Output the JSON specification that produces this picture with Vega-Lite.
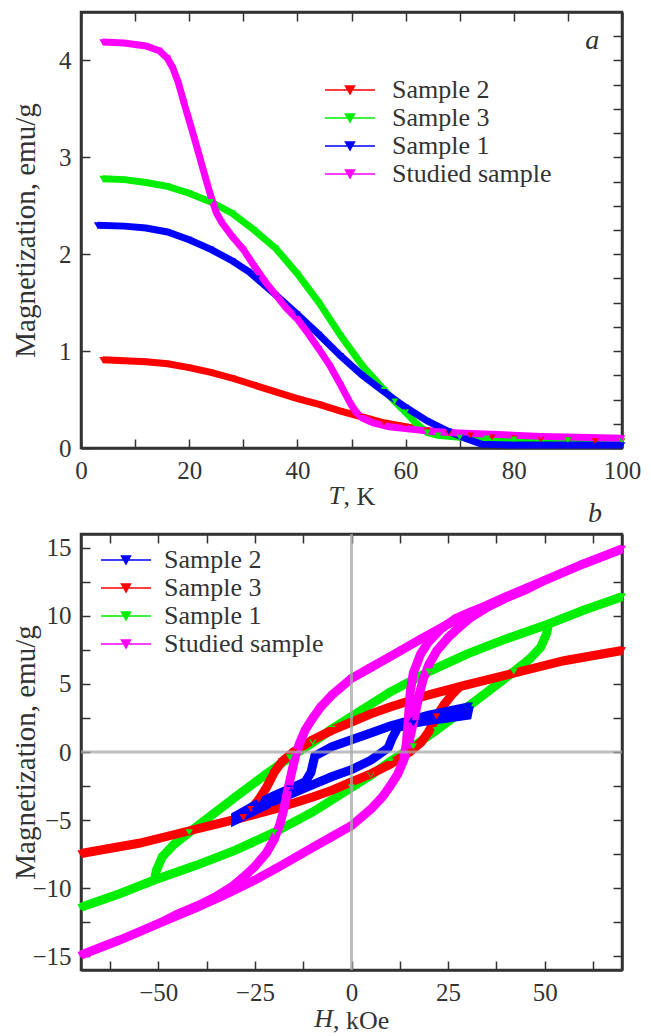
{
"$schema": "https://vega.github.io/schema/vega-lite/v6.json",
"background": "white",
"padding": {"left": 9, "top": 10, "right": 25, "bottom": 0},
"spacing": 86,
"bounds": "flush",
"config": {
  "font": "Liberation Serif",
  "view": {"stroke": "#333", "strokeWidth": 2.5},
  "axis": {"labelFont": "Liberation Serif", "labelFontSize": 25, "labelColor": "#333", "labelFlush": false, "titleFont": "Liberation Serif", "titleFontSize": 26, "titleFontWeight": "normal", "titleColor": "#333", "domainColor": "#333", "domainWidth": 2.5, "tickColor": "#333", "tickWidth": 1.5, "tickSize": -9, "labelPadding": 19, "grid": false}
},
"resolve": {"scale": {"color": "independent"}, "legend": {"color": "independent"}},
"datasets": {
"a": [
{"s":"Sample 2","T":4,"M":0.91},{"s":"Sample 2","T":8,"M":0.90},{"s":"Sample 2","T":12,"M":0.89},{"s":"Sample 2","T":16,"M":0.87},{"s":"Sample 2","T":20,"M":0.83},{"s":"Sample 2","T":24,"M":0.78},{"s":"Sample 2","T":28,"M":0.72},{"s":"Sample 2","T":32,"M":0.65},{"s":"Sample 2","T":36,"M":0.58},{"s":"Sample 2","T":40,"M":0.51},{"s":"Sample 2","T":44,"M":0.45},{"s":"Sample 2","T":48,"M":0.38},{"s":"Sample 2","T":52,"M":0.32},{"s":"Sample 2","T":56,"M":0.26},{"s":"Sample 2","T":60,"M":0.22},{"s":"Sample 2","T":64,"M":0.18},{"s":"Sample 2","T":68,"M":0.15},{"s":"Sample 2","T":72,"M":0.13},{"s":"Sample 2","T":76,"M":0.11},{"s":"Sample 2","T":80,"M":0.10},{"s":"Sample 2","T":85,"M":0.09},{"s":"Sample 2","T":90,"M":0.08},{"s":"Sample 2","T":95,"M":0.07},{"s":"Sample 2","T":100,"M":0.07},
{"s":"Sample 3","T":4,"M":2.78},{"s":"Sample 3","T":8,"M":2.77},{"s":"Sample 3","T":12,"M":2.74},{"s":"Sample 3","T":16,"M":2.70},{"s":"Sample 3","T":20,"M":2.63},{"s":"Sample 3","T":24,"M":2.54},{"s":"Sample 3","T":28,"M":2.42},{"s":"Sample 3","T":32,"M":2.25},{"s":"Sample 3","T":36,"M":2.06},{"s":"Sample 3","T":40,"M":1.80},{"s":"Sample 3","T":44,"M":1.50},{"s":"Sample 3","T":48,"M":1.16},{"s":"Sample 3","T":52,"M":0.85},{"s":"Sample 3","T":56,"M":0.60},{"s":"Sample 3","T":58,"M":0.48},{"s":"Sample 3","T":60,"M":0.37},{"s":"Sample 3","T":62,"M":0.25},{"s":"Sample 3","T":64,"M":0.16},{"s":"Sample 3","T":66,"M":0.13},{"s":"Sample 3","T":70,"M":0.11},{"s":"Sample 3","T":75,"M":0.10},{"s":"Sample 3","T":80,"M":0.09},{"s":"Sample 3","T":90,"M":0.08},{"s":"Sample 3","T":100,"M":0.07},
{"s":"Sample 1","T":3,"M":2.30},{"s":"Sample 1","T":8,"M":2.29},{"s":"Sample 1","T":12,"M":2.27},{"s":"Sample 1","T":16,"M":2.23},{"s":"Sample 1","T":20,"M":2.15},{"s":"Sample 1","T":24,"M":2.05},{"s":"Sample 1","T":28,"M":1.93},{"s":"Sample 1","T":31,"M":1.82},{"s":"Sample 1","T":32.5,"M":1.75},{"s":"Sample 1","T":36,"M":1.58},{"s":"Sample 1","T":40,"M":1.38},{"s":"Sample 1","T":44,"M":1.17},{"s":"Sample 1","T":48,"M":0.95},{"s":"Sample 1","T":52,"M":0.75},{"s":"Sample 1","T":56,"M":0.58},{"s":"Sample 1","T":60,"M":0.42},{"s":"Sample 1","T":64,"M":0.28},{"s":"Sample 1","T":68,"M":0.17},{"s":"Sample 1","T":71,"M":0.10},{"s":"Sample 1","T":74,"M":0.04},{"s":"Sample 1","T":80,"M":0.03},{"s":"Sample 1","T":90,"M":0.03},{"s":"Sample 1","T":100,"M":0.03},
{"s":"Studied sample","T":4,"M":4.19},{"s":"Studied sample","T":8,"M":4.18},{"s":"Studied sample","T":12,"M":4.15},{"s":"Studied sample","T":14.5,"M":4.10},{"s":"Studied sample","T":16,"M":4.02},{"s":"Studied sample","T":17,"M":3.92},{"s":"Studied sample","T":18,"M":3.77},{"s":"Studied sample","T":19,"M":3.57},{"s":"Studied sample","T":20,"M":3.38},{"s":"Studied sample","T":21,"M":3.19},{"s":"Studied sample","T":22,"M":2.99},{"s":"Studied sample","T":23,"M":2.79},{"s":"Studied sample","T":24,"M":2.60},{"s":"Studied sample","T":25,"M":2.43},{"s":"Studied sample","T":26,"M":2.33},{"s":"Studied sample","T":28,"M":2.18},{"s":"Studied sample","T":30,"M":2.05},{"s":"Studied sample","T":32,"M":1.88},{"s":"Studied sample","T":34,"M":1.72},{"s":"Studied sample","T":36,"M":1.58},{"s":"Studied sample","T":38,"M":1.44},{"s":"Studied sample","T":40,"M":1.33},{"s":"Studied sample","T":42,"M":1.18},{"s":"Studied sample","T":44,"M":1.02},{"s":"Studied sample","T":46,"M":0.85},{"s":"Studied sample","T":48,"M":0.65},{"s":"Studied sample","T":50,"M":0.44},{"s":"Studied sample","T":51,"M":0.36},{"s":"Studied sample","T":52,"M":0.31},{"s":"Studied sample","T":54,"M":0.26},{"s":"Studied sample","T":57,"M":0.22},{"s":"Studied sample","T":60,"M":0.20},{"s":"Studied sample","T":65,"M":0.17},{"s":"Studied sample","T":70,"M":0.155},{"s":"Studied sample","T":77,"M":0.14},{"s":"Studied sample","T":85,"M":0.12},{"s":"Studied sample","T":92,"M":0.11},{"s":"Studied sample","T":100,"M":0.10}
],
"b": [
{"s":"Sample 1","g":"m","i":0,"H":70,"M":11.4},{"s":"Sample 1","g":"m","i":1,"H":60,"M":10.4},{"s":"Sample 1","g":"m","i":2,"H":51,"M":9.4},{"s":"Sample 1","g":"m","i":3,"H":40,"M":8.3},{"s":"Sample 1","g":"m","i":4,"H":30,"M":7.2},{"s":"Sample 1","g":"m","i":5,"H":20,"M":5.9},{"s":"Sample 1","g":"m","i":6,"H":10,"M":4.4},{"s":"Sample 1","g":"m","i":7,"H":0,"M":2.6},{"s":"Sample 1","g":"m","i":8,"H":-5,"M":1.7},{"s":"Sample 1","g":"m","i":9,"H":-10,"M":0.7},{"s":"Sample 1","g":"m","i":10,"H":-16,"M":-0.4},{"s":"Sample 1","g":"m","i":11,"H":-22,"M":-1.6},{"s":"Sample 1","g":"m","i":12,"H":-30,"M":-3.3},{"s":"Sample 1","g":"m","i":13,"H":-36,"M":-4.6},{"s":"Sample 1","g":"m","i":14,"H":-42,"M":-5.9},{"s":"Sample 1","g":"m","i":15,"H":-46,"M":-6.8},{"s":"Sample 1","g":"m","i":16,"H":-49,"M":-7.7},{"s":"Sample 1","g":"m","i":17,"H":-50.5,"M":-8.7},{"s":"Sample 1","g":"m","i":18,"H":-51,"M":-9.4},{"s":"Sample 1","g":"m","i":19,"H":-60,"M":-10.4},{"s":"Sample 1","g":"m","i":20,"H":-70,"M":-11.4},
{"s":"Sample 1","g":"m","i":21,"H":-60,"M":-10.4},{"s":"Sample 1","g":"m","i":22,"H":-51,"M":-9.4},{"s":"Sample 1","g":"m","i":23,"H":-40,"M":-8.3},{"s":"Sample 1","g":"m","i":24,"H":-30,"M":-7.2},{"s":"Sample 1","g":"m","i":25,"H":-20,"M":-5.9},{"s":"Sample 1","g":"m","i":26,"H":-10,"M":-4.4},{"s":"Sample 1","g":"m","i":27,"H":0,"M":-2.6},{"s":"Sample 1","g":"m","i":28,"H":5,"M":-1.7},{"s":"Sample 1","g":"m","i":29,"H":10,"M":-0.7},{"s":"Sample 1","g":"m","i":30,"H":16,"M":0.4},{"s":"Sample 1","g":"m","i":31,"H":22,"M":1.6},{"s":"Sample 1","g":"m","i":32,"H":30,"M":3.3},{"s":"Sample 1","g":"m","i":33,"H":36,"M":4.6},{"s":"Sample 1","g":"m","i":34,"H":42,"M":5.9},{"s":"Sample 1","g":"m","i":35,"H":46,"M":6.8},{"s":"Sample 1","g":"m","i":36,"H":49,"M":7.7},{"s":"Sample 1","g":"m","i":37,"H":50.5,"M":8.7},{"s":"Sample 1","g":"m","i":38,"H":51,"M":9.4},{"s":"Sample 1","g":"m","i":39,"H":60,"M":10.4},{"s":"Sample 1","g":"m","i":40,"H":70,"M":11.4},
{"s":"Sample 3","g":"m","i":0,"H":70,"M":7.45},{"s":"Sample 3","g":"m","i":1,"H":55,"M":6.7},{"s":"Sample 3","g":"m","i":2,"H":45,"M":6.0},{"s":"Sample 3","g":"m","i":3,"H":35,"M":5.3},{"s":"Sample 3","g":"m","i":4,"H":28,"M":4.8},{"s":"Sample 3","g":"m","i":5,"H":20,"M":4.2},{"s":"Sample 3","g":"m","i":6,"H":10,"M":3.3},{"s":"Sample 3","g":"m","i":7,"H":5,"M":2.8},{"s":"Sample 3","g":"m","i":8,"H":0,"M":2.2},{"s":"Sample 3","g":"m","i":9,"H":-5,"M":1.6},{"s":"Sample 3","g":"m","i":10,"H":-10,"M":0.9},{"s":"Sample 3","g":"m","i":11,"H":-15,"M":0.0},{"s":"Sample 3","g":"m","i":12,"H":-18,"M":-0.7},{"s":"Sample 3","g":"m","i":13,"H":-20,"M":-1.5},{"s":"Sample 3","g":"m","i":14,"H":-22,"M":-2.6},{"s":"Sample 3","g":"m","i":15,"H":-24,"M":-3.5},{"s":"Sample 3","g":"m","i":16,"H":-26,"M":-4.2},{"s":"Sample 3","g":"m","i":17,"H":-28,"M":-4.8},{"s":"Sample 3","g":"m","i":18,"H":-35,"M":-5.3},{"s":"Sample 3","g":"m","i":19,"H":-45,"M":-6.0},{"s":"Sample 3","g":"m","i":20,"H":-55,"M":-6.7},{"s":"Sample 3","g":"m","i":21,"H":-70,"M":-7.45},
{"s":"Sample 3","g":"m","i":22,"H":-55,"M":-6.7},{"s":"Sample 3","g":"m","i":23,"H":-45,"M":-6.0},{"s":"Sample 3","g":"m","i":24,"H":-35,"M":-5.3},{"s":"Sample 3","g":"m","i":25,"H":-28,"M":-4.8},{"s":"Sample 3","g":"m","i":26,"H":-20,"M":-4.2},{"s":"Sample 3","g":"m","i":27,"H":-10,"M":-3.3},{"s":"Sample 3","g":"m","i":28,"H":-5,"M":-2.8},{"s":"Sample 3","g":"m","i":29,"H":0,"M":-2.2},{"s":"Sample 3","g":"m","i":30,"H":5,"M":-1.6},{"s":"Sample 3","g":"m","i":31,"H":10,"M":-0.9},{"s":"Sample 3","g":"m","i":32,"H":15,"M":0.0},{"s":"Sample 3","g":"m","i":33,"H":18,"M":0.7},{"s":"Sample 3","g":"m","i":34,"H":20,"M":1.5},{"s":"Sample 3","g":"m","i":35,"H":22,"M":2.6},{"s":"Sample 3","g":"m","i":36,"H":24,"M":3.5},{"s":"Sample 3","g":"m","i":37,"H":26,"M":4.2},{"s":"Sample 3","g":"m","i":38,"H":28,"M":4.8},{"s":"Sample 3","g":"m","i":39,"H":35,"M":5.3},{"s":"Sample 3","g":"m","i":40,"H":45,"M":6.0},{"s":"Sample 3","g":"m","i":41,"H":55,"M":6.7},{"s":"Sample 3","g":"m","i":42,"H":70,"M":7.45},
{"s":"Sample 2","g":"m","i":0,"H":30,"M":3.3},{"s":"Sample 2","g":"m","i":1,"H":25,"M":3.0},{"s":"Sample 2","g":"m","i":2,"H":20,"M":2.7},{"s":"Sample 2","g":"m","i":3,"H":15,"M":2.3},{"s":"Sample 2","g":"m","i":4,"H":10,"M":1.9},{"s":"Sample 2","g":"m","i":5,"H":5,"M":1.4},{"s":"Sample 2","g":"m","i":6,"H":0,"M":0.9},{"s":"Sample 2","g":"m","i":7,"H":-5,"M":0.4},{"s":"Sample 2","g":"m","i":8,"H":-9.5,"M":-0.3},{"s":"Sample 2","g":"m","i":9,"H":-10.5,"M":-1.5},{"s":"Sample 2","g":"m","i":10,"H":-12,"M":-2.2},{"s":"Sample 2","g":"m","i":11,"H":-16,"M":-2.7},{"s":"Sample 2","g":"m","i":12,"H":-20,"M":-3.2},{"s":"Sample 2","g":"m","i":13,"H":-25,"M":-3.9},{"s":"Sample 2","g":"m","i":14,"H":-30,"M":-4.7},
{"s":"Sample 2","g":"m","i":15,"H":-30,"M":-5.0},{"s":"Sample 2","g":"m","i":16,"H":-25,"M":-4.3},{"s":"Sample 2","g":"m","i":17,"H":-20,"M":-3.6},{"s":"Sample 2","g":"m","i":18,"H":-15,"M":-3.0},{"s":"Sample 2","g":"m","i":19,"H":-10,"M":-2.4},{"s":"Sample 2","g":"m","i":20,"H":-5,"M":-1.8},{"s":"Sample 2","g":"m","i":21,"H":0,"M":-1.3},{"s":"Sample 2","g":"m","i":22,"H":5,"M":-0.6},{"s":"Sample 2","g":"m","i":23,"H":9.5,"M":0.3},{"s":"Sample 2","g":"m","i":24,"H":10.5,"M":1.0},{"s":"Sample 2","g":"m","i":25,"H":12,"M":1.8},{"s":"Sample 2","g":"m","i":26,"H":16,"M":2.1},{"s":"Sample 2","g":"m","i":27,"H":20,"M":2.3},{"s":"Sample 2","g":"m","i":28,"H":25,"M":2.5},{"s":"Sample 2","g":"m","i":29,"H":30,"M":2.7},{"s":"Sample 2","g":"m","i":30,"H":30.5,"M":3.4},
{"s":"Studied sample","g":"m","i":0,"H":70,"M":14.9},{"s":"Studied sample","g":"m","i":1,"H":60,"M":13.8},{"s":"Studied sample","g":"m","i":2,"H":50,"M":12.6},{"s":"Studied sample","g":"m","i":3,"H":40,"M":11.4},{"s":"Studied sample","g":"m","i":4,"H":33,"M":10.5},{"s":"Studied sample","g":"m","i":5,"H":25,"M":9.4},{"s":"Studied sample","g":"m","i":6,"H":18,"M":8.3},{"s":"Studied sample","g":"m","i":7,"H":10,"M":7.0},{"s":"Studied sample","g":"m","i":8,"H":5,"M":6.2},{"s":"Studied sample","g":"m","i":9,"H":0,"M":5.4},{"s":"Studied sample","g":"m","i":10,"H":-5,"M":4.2},{"s":"Studied sample","g":"m","i":11,"H":-8,"M":3.3},{"s":"Studied sample","g":"m","i":12,"H":-10,"M":2.5},{"s":"Studied sample","g":"m","i":13,"H":-12,"M":1.6},{"s":"Studied sample","g":"m","i":14,"H":-13.5,"M":0.6},{"s":"Studied sample","g":"m","i":15,"H":-14.5,"M":-0.3},{"s":"Studied sample","g":"m","i":16,"H":-15.5,"M":-1.5},{"s":"Studied sample","g":"m","i":17,"H":-16.5,"M":-2.8},{"s":"Studied sample","g":"m","i":18,"H":-17.5,"M":-4.2},{"s":"Studied sample","g":"m","i":19,"H":-18.5,"M":-5.3},{"s":"Studied sample","g":"m","i":20,"H":-20,"M":-6.4},{"s":"Studied sample","g":"m","i":21,"H":-22,"M":-7.4},{"s":"Studied sample","g":"m","i":22,"H":-25,"M":-8.4},{"s":"Studied sample","g":"m","i":23,"H":-28,"M":-9.2},{"s":"Studied sample","g":"m","i":24,"H":-31,"M":-9.9},{"s":"Studied sample","g":"m","i":25,"H":-35,"M":-10.6},{"s":"Studied sample","g":"m","i":26,"H":-40,"M":-11.3},{"s":"Studied sample","g":"m","i":27,"H":-45,"M":-11.9},{"s":"Studied sample","g":"m","i":28,"H":-50,"M":-12.6},{"s":"Studied sample","g":"m","i":29,"H":-60,"M":-13.8},{"s":"Studied sample","g":"m","i":30,"H":-70,"M":-14.9},
{"s":"Studied sample","g":"m","i":31,"H":-60,"M":-13.8},{"s":"Studied sample","g":"m","i":32,"H":-50,"M":-12.6},{"s":"Studied sample","g":"m","i":33,"H":-40,"M":-11.4},{"s":"Studied sample","g":"m","i":34,"H":-33,"M":-10.5},{"s":"Studied sample","g":"m","i":35,"H":-25,"M":-9.4},{"s":"Studied sample","g":"m","i":36,"H":-18,"M":-8.3},{"s":"Studied sample","g":"m","i":37,"H":-10,"M":-7.0},{"s":"Studied sample","g":"m","i":38,"H":-5,"M":-6.2},{"s":"Studied sample","g":"m","i":39,"H":0,"M":-5.4},{"s":"Studied sample","g":"m","i":40,"H":5,"M":-4.2},{"s":"Studied sample","g":"m","i":41,"H":8,"M":-3.3},{"s":"Studied sample","g":"m","i":42,"H":10,"M":-2.5},{"s":"Studied sample","g":"m","i":43,"H":12,"M":-1.6},{"s":"Studied sample","g":"m","i":44,"H":13.5,"M":-0.6},{"s":"Studied sample","g":"m","i":45,"H":14.5,"M":0.3},{"s":"Studied sample","g":"m","i":46,"H":15.5,"M":1.5},{"s":"Studied sample","g":"m","i":47,"H":16.5,"M":2.8},{"s":"Studied sample","g":"m","i":48,"H":17.5,"M":4.2},{"s":"Studied sample","g":"m","i":49,"H":18.5,"M":5.3},{"s":"Studied sample","g":"m","i":50,"H":20,"M":6.4},{"s":"Studied sample","g":"m","i":51,"H":22,"M":7.4},{"s":"Studied sample","g":"m","i":52,"H":25,"M":8.4},{"s":"Studied sample","g":"m","i":53,"H":28,"M":9.2},{"s":"Studied sample","g":"m","i":54,"H":31,"M":9.9},{"s":"Studied sample","g":"m","i":55,"H":35,"M":10.6},{"s":"Studied sample","g":"m","i":56,"H":40,"M":11.3},{"s":"Studied sample","g":"m","i":57,"H":45,"M":11.9},{"s":"Studied sample","g":"m","i":58,"H":50,"M":12.6},{"s":"Studied sample","g":"m","i":59,"H":60,"M":13.8},{"s":"Studied sample","g":"m","i":60,"H":70,"M":14.9},
{"s":"Studied sample","g":"x","i":0,"H":13.5,"M":-0.6},{"s":"Studied sample","g":"x","i":1,"H":14.2,"M":0.6},{"s":"Studied sample","g":"x","i":2,"H":14.7,"M":2.4},{"s":"Studied sample","g":"x","i":3,"H":15.2,"M":4.4},{"s":"Studied sample","g":"x","i":4,"H":16,"M":5.8},{"s":"Studied sample","g":"x","i":5,"H":17.9,"M":7.2},{"s":"Studied sample","g":"x","i":6,"H":20,"M":8.1},{"s":"Studied sample","g":"x","i":7,"H":23,"M":9.0},{"s":"Studied sample","g":"x","i":8,"H":27,"M":9.8},{"s":"Studied sample","g":"x","i":9,"H":31,"M":10.3},{"s":"Studied sample","g":"x","i":10,"H":34,"M":10.6}
]
},
"vconcat": [
{
  "width": 541, "height": 436,
  "layer": [
    {
      "data": {"name": "a"},
      "mark": {"type": "line", "strokeWidth": 7},
      "encoding": {
        "x": {"field": "T", "type": "quantitative", "scale": {"domain": [0, 100], "nice": false, "zero": false},
              "axis": {"orient": "bottom", "title": ", K", "values": [0,10,20,30,40,50,60,70,80,90,100], "format": "d", "labelExpr": "datum.value % 20 === 0 ? datum.label : ''", "titleY": 56, "titleX": 262, "titleAlign": "left", "titleAnchor": null, "titleBaseline": "alphabetic"}},
        "y": {"field": "M", "type": "quantitative", "scale": {"domain": [0, 4.5], "nice": false},
              "axis": {"orient": "left", "title": "Magnetization, emu/g", "titleFontSize": 29, "values": [0,0.25,0.5,0.75,1,1.25,1.5,1.75,2,2.25,2.5,2.75,3,3.25,3.5,3.75,4,4.25], "format": "d", "labelExpr": "datum.value % 1 === 0 ? datum.label : ''", "titleX": -47, "titleBaseline": "alphabetic"}},
        "color": {"field": "s", "type": "nominal",
                  "scale": {"domain": ["Sample 2", "Sample 3", "Sample 1", "Studied sample"], "range": ["#ff0000", "#00ee00", "#0000ff", "#ff00ff"]},
                  "legend": {"orient": "none", "legendX": 256, "legendY": 65, "title": null, "padding": 0,
                             "symbolType": "M-2.5,0H2.5M-0.45,-0.4L0.45,-0.4L0,0.4Z", "symbolSize": 400, "symbolStrokeWidth": 1.5,
                             "labelFont": "Liberation Serif", "labelFontSize": 26, "labelColor": "#333", "labelOffset": 29, "rowPadding": 2,
                             "encode": {"symbols": {"update": {
                               "fill": {"signal": "datum.value === 'Sample 2' ? '#ff0000' : datum.value === 'Sample 3' ? '#00ee00' : datum.value === 'Sample 1' ? '#0000ff' : '#ff00ff'"},
                               "stroke": {"signal": "datum.value === 'Sample 2' ? '#ff7777' : datum.value === 'Sample 3' ? '#66ee66' : datum.value === 'Sample 1' ? '#6666ff' : '#66ee66'"},
                               "opacity": {"value": 1}}}}}}
      }
    },
    {
      "data": {"name": "a"},
      "mark": {"type": "point", "shape": "triangle-down", "filled": true, "size": 45, "opacity": 1},
      "encoding": {
        "x": {"field": "T", "type": "quantitative", "axis": {"orient": "top", "labels": false, "title": null, "values": [0,10,20,30,40,50,60,70,80,90,100]}},
        "y": {"field": "M", "type": "quantitative", "axis": {"orient": "right", "labels": false, "title": null, "values": [0,0.25,0.5,0.75,1,1.25,1.5,1.75,2,2.25,2.5,2.75,3,3.25,3.5,3.75,4,4.25]}},
        "color": {"field": "s", "type": "nominal"}
      }
    },
    {
      "data": {"values": [{"label": "a"}]},
      "mark": {"type": "text", "font": "Liberation Serif", "fontStyle": "italic", "fontWeight": "normal", "fontSize": 28, "align": "center", "baseline": "alphabetic", "color": "#333"},
      "encoding": {"text": {"field": "label"}, "x": {"datum": 94.5, "type": "quantitative", "axis": null}, "y": {"datum": 4.12, "type": "quantitative", "axis": null}}
    },
    {
      "data": {"values": [{"label": "T"}]},
      "mark": {"type": "text", "font": "Liberation Serif", "fontStyle": "italic", "fontWeight": "normal", "fontSize": 26, "align": "right", "baseline": "alphabetic", "color": "#333", "clip": false},
      "encoding": {"text": {"field": "label"}, "x": {"datum": 48.4, "type": "quantitative", "axis": null}, "y": {"datum": -0.577, "type": "quantitative", "axis": null}}
    }
  ]
},
{
  "width": 541, "height": 436,
  "title": {"text": "b", "anchor": "end", "frame": "group", "fontStyle": "italic", "font": "Liberation Serif", "fontSize": 28, "fontWeight": "normal", "color": "#333", "dx": -20, "offset": 3},
  "layer": [
    {
      "data": {"name": "b"},
      "mark": {"type": "line", "strokeWidth": 9},
      "encoding": {
        "x": {"field": "H", "type": "quantitative", "scale": {"domain": [-70, 70], "nice": false, "zero": false},
              "axis": {"orient": "bottom", "title": ", kOe", "values": [-62.5,-50,-37.5,-25,-12.5,0,12.5,25,37.5,50,62.5], "format": "d", "labelExpr": "datum.value % 25 === 0 ? datum.label : ''", "titleY": 58, "titleX": 251.5, "titleAlign": "left", "titleAnchor": null, "titleBaseline": "alphabetic"}},
        "y": {"field": "M", "type": "quantitative", "scale": {"domain": [-16, 16], "nice": false, "zero": false},
              "axis": {"orient": "left", "title": "Magnetization, emu/g", "titleFontSize": 29, "values": [-15,-12.5,-10,-7.5,-5,-2.5,0,2.5,5,7.5,10,12.5,15], "format": "d", "labelExpr": "datum.value % 5 === 0 ? datum.label : ''", "titleX": -47, "titleBaseline": "alphabetic"}},
        "order": {"field": "i", "type": "quantitative"},
        "detail": {"field": "g", "type": "nominal"},
        "color": {"field": "s", "type": "nominal",
                  "scale": {"domain": ["Sample 2", "Sample 3", "Sample 1", "Studied sample"], "range": ["#0000ff", "#ff0000", "#00ee00", "#ff00ff"]},
                  "legend": {"orient": "none", "legendX": 32, "legendY": 13, "title": null, "padding": 0,
                             "symbolType": "M-2.5,0H2.5M-0.45,-0.4L0.45,-0.4L0,0.4Z", "symbolSize": 400, "symbolStrokeWidth": 1.5,
                             "labelFont": "Liberation Serif", "labelFontSize": 26, "labelColor": "#333", "labelOffset": 25, "rowPadding": 2,
                             "encode": {"symbols": {"update": {
                               "fill": {"signal": "datum.value === 'Sample 2' ? '#0000ff' : datum.value === 'Sample 3' ? '#ff0000' : datum.value === 'Sample 1' ? '#00ee00' : '#ff00ff'"},
                               "stroke": {"signal": "datum.value === 'Sample 2' ? '#7777ff' : datum.value === 'Sample 3' ? '#ff8888' : datum.value === 'Sample 1' ? '#77ee77' : '#888888'"},
                               "opacity": {"value": 1}}}}}}
      }
    },
    {
      "data": {"name": "b"},
      "mark": {"type": "point", "shape": "triangle-down", "filled": true, "size": 55, "opacity": 1},
      "encoding": {
        "x": {"field": "H", "type": "quantitative", "axis": {"orient": "top", "labels": false, "title": null, "values": [-62.5,-50,-37.5,-25,-12.5,0,12.5,25,37.5,50,62.5]}},
        "y": {"field": "M", "type": "quantitative", "axis": {"orient": "right", "labels": false, "title": null, "values": [-15,-12.5,-10,-7.5,-5,-2.5,0,2.5,5,7.5,10,12.5,15]}},
        "color": {"field": "s", "type": "nominal"}
      }
    },
    {
      "data": {"values": [{"v": 0}]},
      "mark": {"type": "rule", "color": "#a8a8a8", "strokeWidth": 3, "opacity": 0.75},
      "encoding": {"x": {"field": "v", "type": "quantitative", "axis": null}}
    },
    {
      "data": {"values": [{"v": 0}]},
      "mark": {"type": "rule", "color": "#a8a8a8", "strokeWidth": 3, "opacity": 0.75},
      "encoding": {"y": {"field": "v", "type": "quantitative", "axis": null}}
    },
    {
      "data": {"values": [{"label": "H"}]},
      "mark": {"type": "text", "font": "Liberation Serif", "fontStyle": "italic", "fontWeight": "normal", "fontSize": 26, "align": "right", "baseline": "alphabetic", "color": "#333", "clip": false},
      "encoding": {"text": {"field": "label"}, "x": {"datum": -4.8, "type": "quantitative", "axis": null}, "y": {"datum": -20.2, "type": "quantitative", "axis": null}}
    }
  ]
}
]
}
